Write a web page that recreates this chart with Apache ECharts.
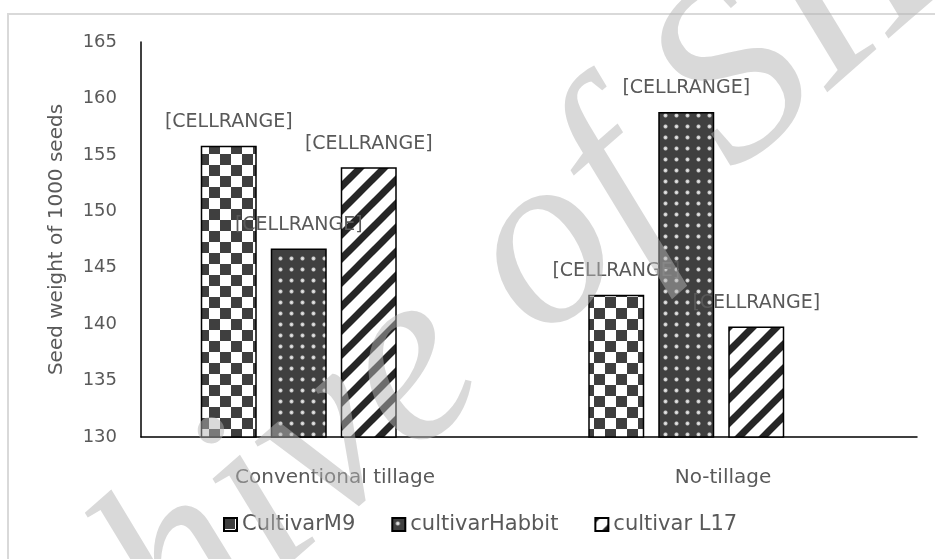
<!DOCTYPE html>
<html>
<head>
<meta charset="utf-8">
<script src="https://cdn.jsdelivr.net/npm/echarts@6/dist/echarts.min.js"></script>
<style>
  html, body { margin: 0; padding: 0; background: #fff; }
  #chart { width: 935px; height: 559px; }
</style>
</head>
<body>
<div id="chart"></div>
<script>
// data
const categories = ['Conventional tillage', 'No-tillage'];
const seriesNames = ['CultivarM9', 'cultivarHabbit', 'cultivar L17'];
const m9 = [155.8, 142.6];
const habbit = [146.7, 158.8];
const l17 = [153.9, 139.8];
const yTicks = { min: 130, max: 165, step: 5 };
const labelText = '[CELLRANGE]';

const FONT = '"DejaVu Sans", sans-serif';
const TXT = '#595959';

// pattern tiles
function tile(size, draw) {
  const c = document.createElement('canvas');
  c.width = size; c.height = size;
  draw(c.getContext('2d'), size);
  return c;
}
const checker = tile(22, (ctx, s) => {
  ctx.fillStyle = '#fff'; ctx.fillRect(0, 0, s, s);
  ctx.fillStyle = '#3f3f3f';
  ctx.fillRect(0, 0, s / 2, s / 2);
  ctx.fillRect(s / 2, s / 2, s / 2, s / 2);
});
const dots = tile(11, (ctx, s) => {
  ctx.fillStyle = '#404040'; ctx.fillRect(0, 0, s, s);
  const g = ctx.createRadialGradient(s / 2, s / 2, 0, s / 2, s / 2, 2.8);
  g.addColorStop(0, '#ececec'); g.addColorStop(0.6, '#c4c4c4'); g.addColorStop(1, 'rgba(64,64,64,0)');
  ctx.fillStyle = g; ctx.fillRect(0, 0, s, s);
});
const stripes = tile(24, (ctx, s) => {
  ctx.fillStyle = '#fff'; ctx.fillRect(0, 0, s, s);
  ctx.strokeStyle = '#262626'; ctx.lineWidth = 7;
  [0, s, 2 * s].forEach(c => {
    ctx.beginPath(); ctx.moveTo(-s, c + s); ctx.lineTo(2 * s, c - 2 * s); ctx.stroke();
  });
});
const fills = [checker, dots, stripes].map(img => ({ image: img, repeat: 'repeat' }));

const chart = echarts.init(document.getElementById('chart'), null, { renderer: 'canvas' });

function barSeries(name, data, fill) {
  return {
    name: name,
    type: 'bar',
    xAxisIndex: 1,
    yAxisIndex: 1,
    data: data,
    barWidth: 56,
    barGap: '25%',
    itemStyle: { color: fill, borderColor: '#000', borderWidth: 1.5 },
    label: {
      show: true, position: 'top', distance: 14,
      formatter: labelText, color: TXT, fontSize: 19, fontFamily: FONT
    }
  };
}

const option = {
  animation: false,
  backgroundColor: '#fff',
  grid: [
    { left: 141, right: 18, top: 42, bottom: 122 },
    { left: 105, width: 775, top: 42, bottom: 122 }
  ],
  xAxis: [
    {
      type: 'category', gridIndex: 0, data: categories,
      axisLine: { lineStyle: { color: '#000', width: 1.5 } },
      axisTick: { show: false },
      axisLabel: { color: TXT, fontSize: 20, fontFamily: FONT, margin: 31 }
    },
    {
      type: 'category', gridIndex: 1, data: categories,
      axisLine: { show: false }, axisTick: { show: false }, axisLabel: { show: false }
    }
  ],
  yAxis: [
    {
      type: 'value', gridIndex: 0, min: yTicks.min, max: yTicks.max, interval: yTicks.step,
      name: 'Seed weight of 1000 seeds', nameLocation: 'middle', nameRotate: 90, nameGap: 74,
      nameTextStyle: { color: TXT, fontSize: 20, fontFamily: FONT },
      axisLine: { show: true, lineStyle: { color: '#000', width: 1.5 } },
      axisTick: { show: false },
      splitLine: { show: false },
      axisLabel: { color: TXT, fontSize: 18, fontFamily: FONT, margin: 24 }
    },
    {
      type: 'value', gridIndex: 1, min: yTicks.min, max: yTicks.max, interval: yTicks.step,
      axisLine: { show: false }, axisTick: { show: false }, splitLine: { show: false },
      axisLabel: { show: false }
    }
  ],
  legend: {
    left: 218, top: 509,
    itemWidth: 13, itemHeight: 13, itemGap: 36,
    icon: 'rect',
    textStyle: { color: TXT, fontSize: 21, fontFamily: FONT },
    data: seriesNames
  },
  series: [
    barSeries(seriesNames[0], m9, fills[0]),
    barSeries(seriesNames[1], habbit, fills[1]),
    barSeries(seriesNames[2], l17, fills[2])
  ],
  graphic: [
    {
      type: 'rect', z: -10, silent: true,
      shape: { x: 8, y: 14, width: 1000, height: 600 },
      style: { fill: 'none', stroke: '#d9d9d9', lineWidth: 2 }
    },
    {
      type: 'text', z: 100, silent: true,
      x: 428, y: 355, rotation: 0.72,
      style: {
        text: 'Archive of SID',
        font: 'italic 250px "Liberation Serif", serif',
        fill: 'rgba(180,180,180,0.5)',
        textAlign: 'center', textVerticalAlign: 'middle'
      }
    }
  ]
};

chart.setOption(option);
</script>
</body>
</html>
